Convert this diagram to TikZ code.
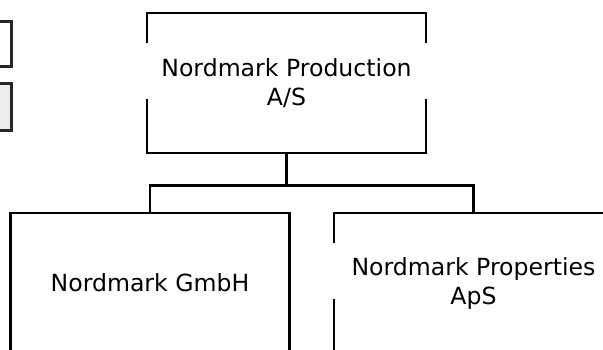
\documentclass[tikz,border=0pt]{standalone}
\usepackage{fontspec}
\setmainfont{DejaVu Sans}
\usetikzlibrary{positioning,calc}
\definecolor{keygray}{RGB}{236,236,236}

\begin{document}
\begin{tikzpicture}[x=1pt, y=-1pt,
    unit/.style={draw=black, line width=2.8pt, minimum width=279pt, minimum height=140pt, inner sep=0pt},
    key/.style={draw=black!85, line width=3pt, minimum width=60pt, inner sep=0pt},
    company/.style={font=\fontsize{23.6}{29}\selectfont, align=center, inner sep=0pt},
    link/.style={line width=2.8pt}]

  \useasboundingbox (0,0) rectangle (603,349);
  \clip (0,0) rectangle (603,349);

  % Legend boxes (cut off at the left edge)
  \node[key, minimum height=45pt] (keyA) at (-19,43.5) {};
  \node[key, minimum height=47pt, fill=keygray] (keyB) at (-19,106.5) {};

  % Parent company
  \node[unit] (prod) at (286.5,83) {};
  \fill[white] (138,43) rectangle (435,99);
  \node[company] (prodname) at (prod) {Nordmark Production\\A/S};

  % Subsidiaries
  \node[unit] (gmbh) at (150,283) {};
  \node[company] (gmbhname) at (gmbh) {Nordmark GmbH};

  \node[unit] (props) at (473.5,283) {};
  \fill[white] (325,243) rectangle (620,299);
  \node[company] (propsname) at (props) {Nordmark Properties\\ApS};

  % Ownership lines
  \draw[link] (prod.south) -- ++(0,31) coordinate (split) -| (gmbh.north);
  \draw[link] (split) -| (props.north);

\end{tikzpicture}
\end{document}
